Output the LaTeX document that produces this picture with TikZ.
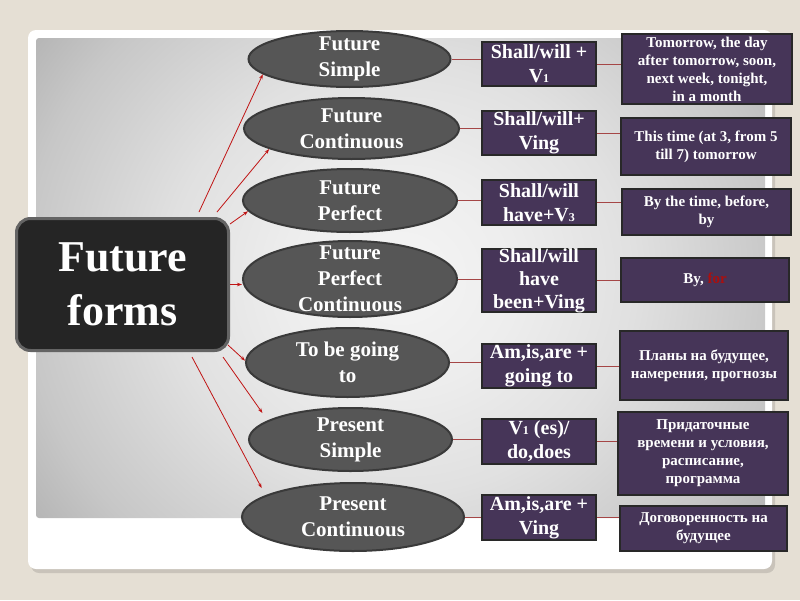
\documentclass[tikz,border=0pt]{standalone}
\usepackage{fontspec}
\setmainfont{Liberation Serif}
\usetikzlibrary{arrows.meta,shapes.geometric,calc}
\definecolor{bgbeige}{RGB}{229,223,212}
\definecolor{ellfill}{RGB}{86,86,86}
\definecolor{elldraw}{RGB}{58,58,58}
\definecolor{purp}{RGB}{70,53,88}
\definecolor{boxdraw}{RGB}{40,40,40}
\definecolor{arrred}{RGB}{192,20,20}
\definecolor{linkred}{RGB}{165,70,70}
\definecolor{mainfill}{RGB}{37,37,37}
\definecolor{mainedge}{RGB}{100,100,100}
\definecolor{forred}{RGB}{170,15,15}
\pgfdeclareradialshading{bgshade}{\pgfpoint{0bp}{0bp}}{color(0bp)=(white!96!black); color(8bp)=(white!93!black); color(16bp)=(white!88!black); color(26bp)=(white!78!black); color(35bp)=(white!65!black); color(45bp)=(white!59!black); color(50bp)=(white!59!black)}
\newcommand\smnum[1]{{\fontsize{12}{12}\selectfont #1}}
\begin{document}
\begin{tikzpicture}[x=1pt,y=-1pt,
  ell/.style={ellipse, draw=elldraw, line width=2pt, fill=ellfill, inner sep=0pt},
  etxt/.style={text=white, font=\bfseries\fontsize{21}{26}\selectfont, align=center, inner sep=0pt},
  mbox/.style={rectangle, draw=boxdraw, line width=2pt, fill=purp, text=white, minimum width=114pt, font=\bfseries\fontsize{20}{24}\selectfont, align=center, inner sep=0pt},
  mtxt/.style={text=white, font=\bfseries\fontsize{20}{23}\selectfont, align=center, inner sep=0pt},
  rbox/.style={rectangle, draw=boxdraw, line width=2pt, fill=purp, text=white, font=\bfseries\fontsize{15}{18}\selectfont, align=center, inner sep=0pt},
  mainbox/.style={rectangle, rounded corners=14pt, draw=mainedge, line width=3pt, fill=mainfill, text=white, font=\bfseries\fontsize{44}{54}\selectfont, align=center, minimum width=212pt, minimum height=132pt, inner sep=0pt},
  arr/.style={draw=arrred, line width=0.8pt, -{Stealth[length=5pt,width=3.5pt]}},
  link/.style={draw=linkred, line width=1pt}]
\useasboundingbox (0,0) rectangle (800,600);
\fill[bgbeige] (0,0) rectangle (800,600);
% card
\fill[black, opacity=0.12, rounded corners=8pt] (31,34) rectangle (775,573);
\fill[white, rounded corners=8pt] (28,30) rectangle (772,569);
\begin{scope}
  \clip[rounded corners=3pt] (36,38) rectangle (765,518);
  \shade[shading=bgshade] (36,-60) rectangle (765,616);
\end{scope}

% main box
\node[mainbox] (main) at (122.5,284.5) {Future\\forms};

% ellipses
\node[ell, minimum width=202pt, minimum height=56pt] (e1) at (349.5,59) {};
\node[ell, minimum width=215pt, minimum height=61pt] (e2) at (351.5,128.5) {};
\node[ell, minimum width=214pt, minimum height=63pt] (e3) at (350,200.5) {};
\node[ell, minimum width=214pt, minimum height=76pt] (e4) at (350,279) {};
\node[ell, minimum width=203pt, minimum height=69pt] (e5) at (347.5,362.5) {};
\node[ell, minimum width=203pt, minimum height=63pt] (e6) at (350.5,439.5) {};
\node[ell, minimum width=222pt, minimum height=68pt] (e7) at (353,517) {};
\node[etxt] (t1) at (e1) {Future\\Simple};
\node[etxt] (t2) at (e2) {Future\\Continuous};
\node[etxt] (t3) at (e3) {Future\\Perfect};
\node[etxt] (t4) at (e4) {Future\\Perfect\\Continuous};
\node[etxt] (t5) at (e5) {To be going\\to};
\node[etxt] (t6) at (e6) {Present\\Simple};
\node[etxt] (t7) at (e7) {Present\\Continuous};

% middle boxes
\node[mbox, minimum height=44pt] (m1) at (539,64) {Shall/will +\\V\smnum{1}};
\node[mbox, minimum height=44pt] (m2) at (539,133) {Shall/will+\\Ving};
\node[mbox, minimum height=45pt] (m3) at (539,202.5) {Shall/will\\have+V\smnum{3}};
\node[mbox, minimum height=63pt] (m4) at (539,280.5) {};
\node[mtxt] (tm4) at (m4) {Shall/will\\have\\been+Ving};
\node[mbox, minimum height=44pt] (m5) at (539,366) {Am,is,are +\\going to};
\node[mbox, minimum height=45pt] (m6) at (539,441.5) {V\smnum{1} (es)/\\do,does};
\node[mbox, minimum height=45pt] (m7) at (539,517.5) {Am,is,are +\\Ving};

% right boxes
\node[rbox, minimum width=170pt, minimum height=70pt] (r1) at (707,69) {Tomorrow, the day\\after tomorrow, soon,\\next week, tonight,\\in a month};
\node[rbox, minimum width=170pt, minimum height=57pt] (r2) at (706,146.5) {This time (at 3, from 5\\till 7) tomorrow};
\node[rbox, minimum width=169pt, minimum height=46pt] (r3) at (706.5,212) {By the time, before,\\by};
\node[rbox, minimum width=168pt, minimum height=44pt] (r4) at (705,280) {By, \textcolor{forred}{for}};
\node[rbox, minimum width=168pt, minimum height=69pt] (r5) at (704,365.5) {Планы на будущее,\\намерения, прогнозы};
\node[rbox, minimum width=170pt, minimum height=83pt] (r6) at (703,453.5) {Придаточные\\времени и условия,\\расписание,\\программа};
\node[rbox, minimum width=167pt, minimum height=45pt] (r7) at (703.5,528.5) {Договоренность на\\будущее};

% arrows from main box
\coordinate (s1) at (199,212);
\coordinate (s2) at (217,212);
\coordinate (s3) at (230,224);
\coordinate (s5) at (228,345);
\coordinate (s6) at (223,357);
\coordinate (s7) at (192,357);
\draw[arr] (s1) -- (e1.190);
\draw[arr] (s2) -- (e2.194);
\draw[arr] (s3) -- (e3.186);
\draw[arr] (main.east) -- (main.east -| e4.west);
\draw[arr] (s5) -- (e5.179);
\draw[arr, shorten >=9pt] (s6) -- (e6.167);
\draw[arr, shorten >=8pt] (s7) -- (e7.166);

% links
\foreach \i in {1,...,7}{
  \draw[link] (e\i.east) -- (e\i.east -| m\i.west);
  \draw[link] (m\i.east) -- (m\i.east -| r\i.west);
}
\end{tikzpicture}
\end{document}
